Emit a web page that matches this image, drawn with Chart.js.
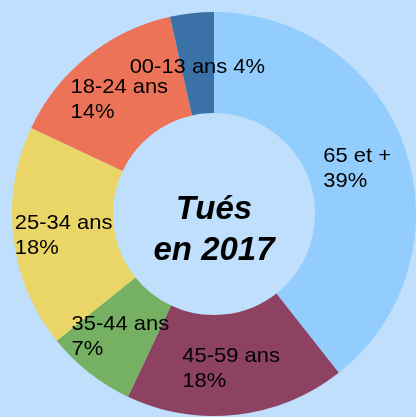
<!DOCTYPE html>
<html>
<head>
<meta charset="utf-8">
<script src="https://cdn.jsdelivr.net/npm/chart.js@4"></script>
<style>
html,body{margin:0;padding:0;background:#bfdffd;}
#wrap{width:416px;height:417px;position:relative;}
</style>
</head>
<body>
<div id="wrap"><canvas id="c" width="416" height="417"></canvas></div>
<script>
const categories = ["65 et +", "45-59 ans", "35-44 ans", "25-34 ans", "18-24 ans", "00-13 ans"];
const shares = [39.4, 17.6, 7.2, 17.8, 14.5, 3.5];
const percentLabels = ["39%", "18%", "7%", "18%", "14%", "4%"];
const colors = ["#92cdfd", "#8e4262", "#76b062", "#ead666", "#ec7358", "#3a72a8"];
const centerTitle = ["Tués", "en 2017"];
const singleLine = [false, false, false, false, false, true];

const labelPlugin = {
  id: 'sliceLabels',
  afterDatasetsDraw(chart) {
    const ctx = chart.ctx;
    const meta = chart.getDatasetMeta(0);
    ctx.save();
    ctx.fillStyle = '#000';
    ctx.font = '21px "Liberation Sans", Arial, sans-serif';
    ctx.textBaseline = 'middle';
    ctx.textAlign = 'left';
    const lh = 25;
    const sx = 1.045;
    meta.data.forEach((arc, i) => {
      const p = arc.getCenterPoint();
      const lines = singleLine[i] ? [categories[i] + ' ' + percentLabels[i]] : [categories[i], percentLabels[i]];
      const w = Math.max(...lines.map(l => ctx.measureText(l).width)) * sx;
      const x0 = p.x - w / 2;
      const y0 = p.y - (lines.length - 1) * lh / 2 + 4;
      lines.forEach((l, k) => {
        ctx.save();
        ctx.translate(x0, y0 + k * lh);
        ctx.scale(sx, 1);
        ctx.fillText(l, 0, 0);
        ctx.restore();
      });
    });
    // center title
    const a = meta.data[0];
    ctx.font = 'italic bold 33px "Liberation Sans", Arial, sans-serif';
    ctx.textAlign = 'center';
    ctx.textBaseline = 'alphabetic';
    ctx.fillText(centerTitle[0], a.x, a.y + 5);
    ctx.fillText(centerTitle[1], a.x, a.y + 46);
    ctx.restore();
  }
};

new Chart(document.getElementById('c'), {
  type: 'doughnut',
  data: {
    labels: categories,
    datasets: [{
      data: shares,
      backgroundColor: colors,
      borderWidth: 0,
      hoverOffset: 0
    }]
  },
  options: {
    responsive: false,
    animation: false,
    cutout: '50%',
    layout: { padding: { left: 12, top: 12, right: 0, bottom: 1 } },
    plugins: { legend: { display: false }, tooltip: { enabled: false } }
  },
  plugins: [labelPlugin]
});
</script>
</body>
</html>
